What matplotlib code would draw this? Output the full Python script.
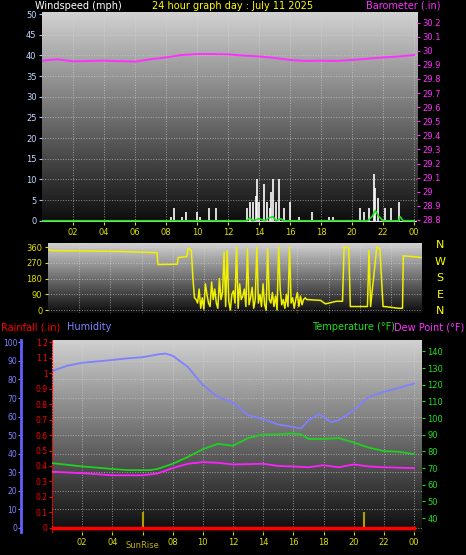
import numpy as np
import matplotlib
matplotlib.use("Agg")
import matplotlib.pyplot as plt

# ---- data ----
baro_h = [0,1,2,4,6,7,8,9,10,11,12,13,14,15,16,17,18,19,20,21,22,23,24]
baro = [29.93,29.94,29.925,29.93,29.923,29.94,29.953,29.97,29.977,29.977,29.975,29.966,29.96,29.95,29.935,29.928,29.93,29.928,29.935,29.944,29.953,29.96,29.97]

gust_h = [8.3,8.5,9.0,9.3,10.0,10.2,10.8,11.2,13.2,13.4,13.6,13.8,13.9,14.0,14.3,14.5,14.7,14.8,14.9,15.1,15.3,15.6,16.0,16.6,17.4,18.5,18.8,20.5,20.8,21.1,21.4,21.5,21.7,22.1,22.5,23.0]
gust = [1,3,1,2,2,1,3,3,3,4.5,4.5,6,10,4.5,9,4.5,3,7,10,4.5,10,3,4.5,1,2,1,1,3,2,3,11.3,8,5.5,3,3,4.5]
avg_h = [0,13.2,13.4,13.6,14.0,14.4,14.6,14.9,15.1,15.4,15.6,21.0,21.3,21.5,21.7,22.0,23.0,23.1,23.3,24]
avg = [0,0,0.7,0,0.5,0,0.6,1.0,0,0.5,0,0,1.0,2.5,1.2,0,0,1.0,0,0]

dir_h = [0,0.2,4.5,7.0,7.05,8.3,8.35,8.9,9.0,9.2,9.3]
dir_v = [345,340,335,328,260,262,300,305,355,340,180]
chaos = [70,60,40,120,10,70,5,150,90,40,20,160,60,120,40,10,180,60,100,330,20,340,50,0,90,110,40,360,10,150,60,80,120,20,350,30,70,130,10,60,360,40,90,20,150,30,0,350,60,40,100,20,80,0,360,120,30,60,10,90,20,360,40,70,10,60,100,20,80,30,60,70]
chaos_h = list(np.linspace(9.4, 16.5, len(chaos)))
dir_h2 = [16.6,17.5,17.8,18.5,18.9,19.0,19.3,19.4,20.5,20.6,20.7,21.1,21.3,21.5,21.6,22.5,22.75,22.8,24]
dir_v2 = [60,55,35,50,50,360,355,20,20,340,20,360,350,20,20,10,10,310,300]

hum_h = [0,1,2,4,5,6,7,7.5,8,9,10,11,12,13,14,15,16,16.5,17,17.7,18.5,19,20,21,22,23,24]
hum = [84.5,87.4,89,90.5,91.4,92,93.5,94,92.8,86.8,77,70.6,67.6,60.7,58.6,55.7,54.4,53.5,58,61.3,57,58,63.4,70.6,73.3,75.5,77.8]
temp_h = [0,2,4,5,6.5,7,8,9,10,11,12,13,14,15,16,16.5,17,18,19,20,21,22,23,24]
temp = [73,71,69.5,68.8,68.8,69.5,72.6,76.7,81.3,84.6,83.4,88,90.2,90.2,90.8,90.2,87.5,87.5,88,85.4,82.3,80.2,79.8,78.4]
dew_h = [0,2,4,6,7,8,9,10,11,12,14,15,16,17,18,19,20,21,22,24]
dew = [67.8,67,65.7,65.7,66.8,70,72.6,73.6,73.2,72.2,72.6,71.3,71,70.5,71.7,70.5,72.2,71,70.5,70]
rain_h = [0,24]
rain = [0,0]
sun_events = [6.0, 20.7]
hour_ticks = list(range(2, 25, 2))
hour_labels = ["%02d" % (h % 24) for h in hour_ticks]

W, H = 466, 555
fig = plt.figure(figsize=(W/100, H/100), dpi=100, facecolor="black")

def rect(x0, y0, x1, y1):
    return [x0/W, 1-y1/H, (x1-x0)/W, (y1-y0)/H]

grad = np.linspace(0.82, 0.05, 256).reshape(-1, 1)

def style(ax, ylim):
    ax.set_facecolor("black")
    ax.imshow(grad, cmap="gray", vmin=0, vmax=1, aspect="auto",
              extent=[0, 1, 0, 1], transform=ax.transAxes, zorder=0)
    ax.set_ylim(*ylim)
    ax.grid(True, color="#d8d8d8", linestyle=":", linewidth=0.7, alpha=0.6)
    for s in ax.spines.values():
        s.set_visible(False)
    ax.tick_params(labelsize=6, length=2, pad=2)

fs = 7
# ---- top ----
ax1 = fig.add_axes(rect(42, 12, 417, 222))
style(ax1, (-0.3, 50.5))
ax1.set_xlim(0, 24*375/372)
ax1.set_xticks(hour_ticks); ax1.set_xticklabels(hour_labels, color="#e0e000")
ax1.set_yticks(range(0, 51, 5))
ax1.tick_params(axis="y", colors="#a0c8ff", labelcolor="#c0d8ff")
ax1.tick_params(axis="x", colors="#e0e000")
ax1.vlines(gust_h, 0, gust, color="white", linewidth=1.2, zorder=3)
ax1.plot(avg_h, avg, color="#20e020", linewidth=1.2, zorder=4)
ax1.axhline(0, color="#dddddd", linewidth=1, zorder=3)
ax1b = ax1.twinx()
ax1b.set_ylim(28.8 - 2/141, 28.8 + 208/141)
ax1b.plot(baro_h, baro, color="#ff30ff", linewidth=1.4)
bt = np.round(np.arange(28.8, 30.21, 0.1), 1)
ax1b.set_yticks(bt)
ax1b.set_yticklabels(["%g" % v for v in bt])
ax1b.tick_params(axis="y", colors="#ff30ff", labelsize=6, length=2, pad=2)
for s in ax1b.spines.values(): s.set_visible(False)
fig.text(35/W, 1-6/H, "Windspeed (mph)", color="white", fontsize=fs, va="center")
fig.text(0.5, 1-6/H, "24 hour graph day : July 11 2025", color="yellow", fontsize=fs, va="center", ha="center")
fig.text(440/W, 1-6/H, "Barometer (.in)", color="#ff30ff", fontsize=fs, va="center", ha="right")

# ---- middle ----
ax2 = fig.add_axes(rect(48, 243, 422, 313))
style(ax2, (-17, 383))
ax2.set_xlim(0, 24)
ax2.set_xticks(hour_ticks); ax2.tick_params(axis="x", labelbottom=False, length=0)
ax2.set_yticks([0, 90, 180, 270, 360])
ax2.tick_params(axis="y", colors="#e0e000")
ax2.plot(dir_h + chaos_h + dir_h2, dir_v + chaos + dir_v2, color="#f0f000", linewidth=1.1)
for i, c in enumerate("NWSEN"):
    fig.text(440/W, 1-(245 + i*16.5)/H, c, color="yellow", fontsize=8, ha="center", va="center")

fig.text(1/W, 1-327/H, "Rainfall (.in)", color="red", fontsize=fs, va="center")
fig.text(67/W, 1-327/H, "Humidity", color="#8080ff", fontsize=fs, va="center")
fig.text(312/W, 1-327/H, "Temperature (°F)", color="#20e020", fontsize=fs, va="center")
fig.text(464/W, 1-327/H, "Dew Point (°F)", color="#ff30ff", fontsize=fs, va="center", ha="right")

# ---- bottom ----
ax3 = fig.add_axes(rect(52, 340, 422, 532))
style(ax3, (-2.3, 101.3))
ax3.set_xlim(0, 24*371/363)
labs3 = [("" if h == 6 else l) for h, l in zip(hour_ticks, hour_labels)]
ax3.set_xticks(hour_ticks); ax3.set_xticklabels(labs3, color="#e0e000")
ax3.tick_params(axis="x", colors="#e0e000")
ax3.set_yticks(range(0, 101, 10))
ax3.spines["left"].set_visible(True)
ax3.spines["left"].set_position(("outward", 22))
ax3.spines["left"].set_color("#6060ff"); ax3.spines["left"].set_linewidth(2)
ax3.tick_params(axis="y", colors="#8080ff", labelsize=5.5, pad=1)
ax3.plot(hum_h, hum, color="#8080ff", linewidth=1.3, zorder=3)
ax3r = ax3.twinx()
ax3r.set_ylim(-2.3*1.2/100, 1.2 + 1.3*1.2/100)
ax3r.yaxis.set_ticks_position("left")
ax3r.spines["left"].set_visible(True); ax3r.spines["right"].set_visible(False)
ax3r.spines["top"].set_visible(False); ax3r.spines["bottom"].set_visible(False)
ax3r.spines["left"].set_color("red"); ax3r.spines["left"].set_linestyle(":")
rt = np.round(np.arange(0, 1.21, 0.1), 1)
ax3r.set_yticks(rt)
ax3r.set_yticklabels(["%g" % v for v in rt])
ax3r.tick_params(axis="y", colors="red", labelsize=5.5, length=2, pad=1)
ax3r.plot(rain_h, rain, color="red", linewidth=2.5, zorder=4)
ax3r.vlines(sun_events, 0, 0.1, color="#b0a000", linewidth=1.5)
ax3t = ax3.twinx()
ax3t.set_ylim(31.7, 146.8)
ax3t.set_yticks(range(40, 141, 10))
for s in ax3t.spines.values(): s.set_visible(False)
ax3t.tick_params(axis="y", colors="#20e020", labelsize=6, length=2, pad=2)
ax3t.plot(temp_h, temp, color="#20d020", linewidth=1.3)
ax3t.plot(dew_h, dew, color="#ff20ff", linewidth=1.3)
ax3.text(6.0, -0.045, "SunRise", transform=ax3.get_xaxis_transform(), color="#c0b000",
         fontsize=6, ha="center", va="top")

fig.savefig("out.png", dpi=100, facecolor="black")
